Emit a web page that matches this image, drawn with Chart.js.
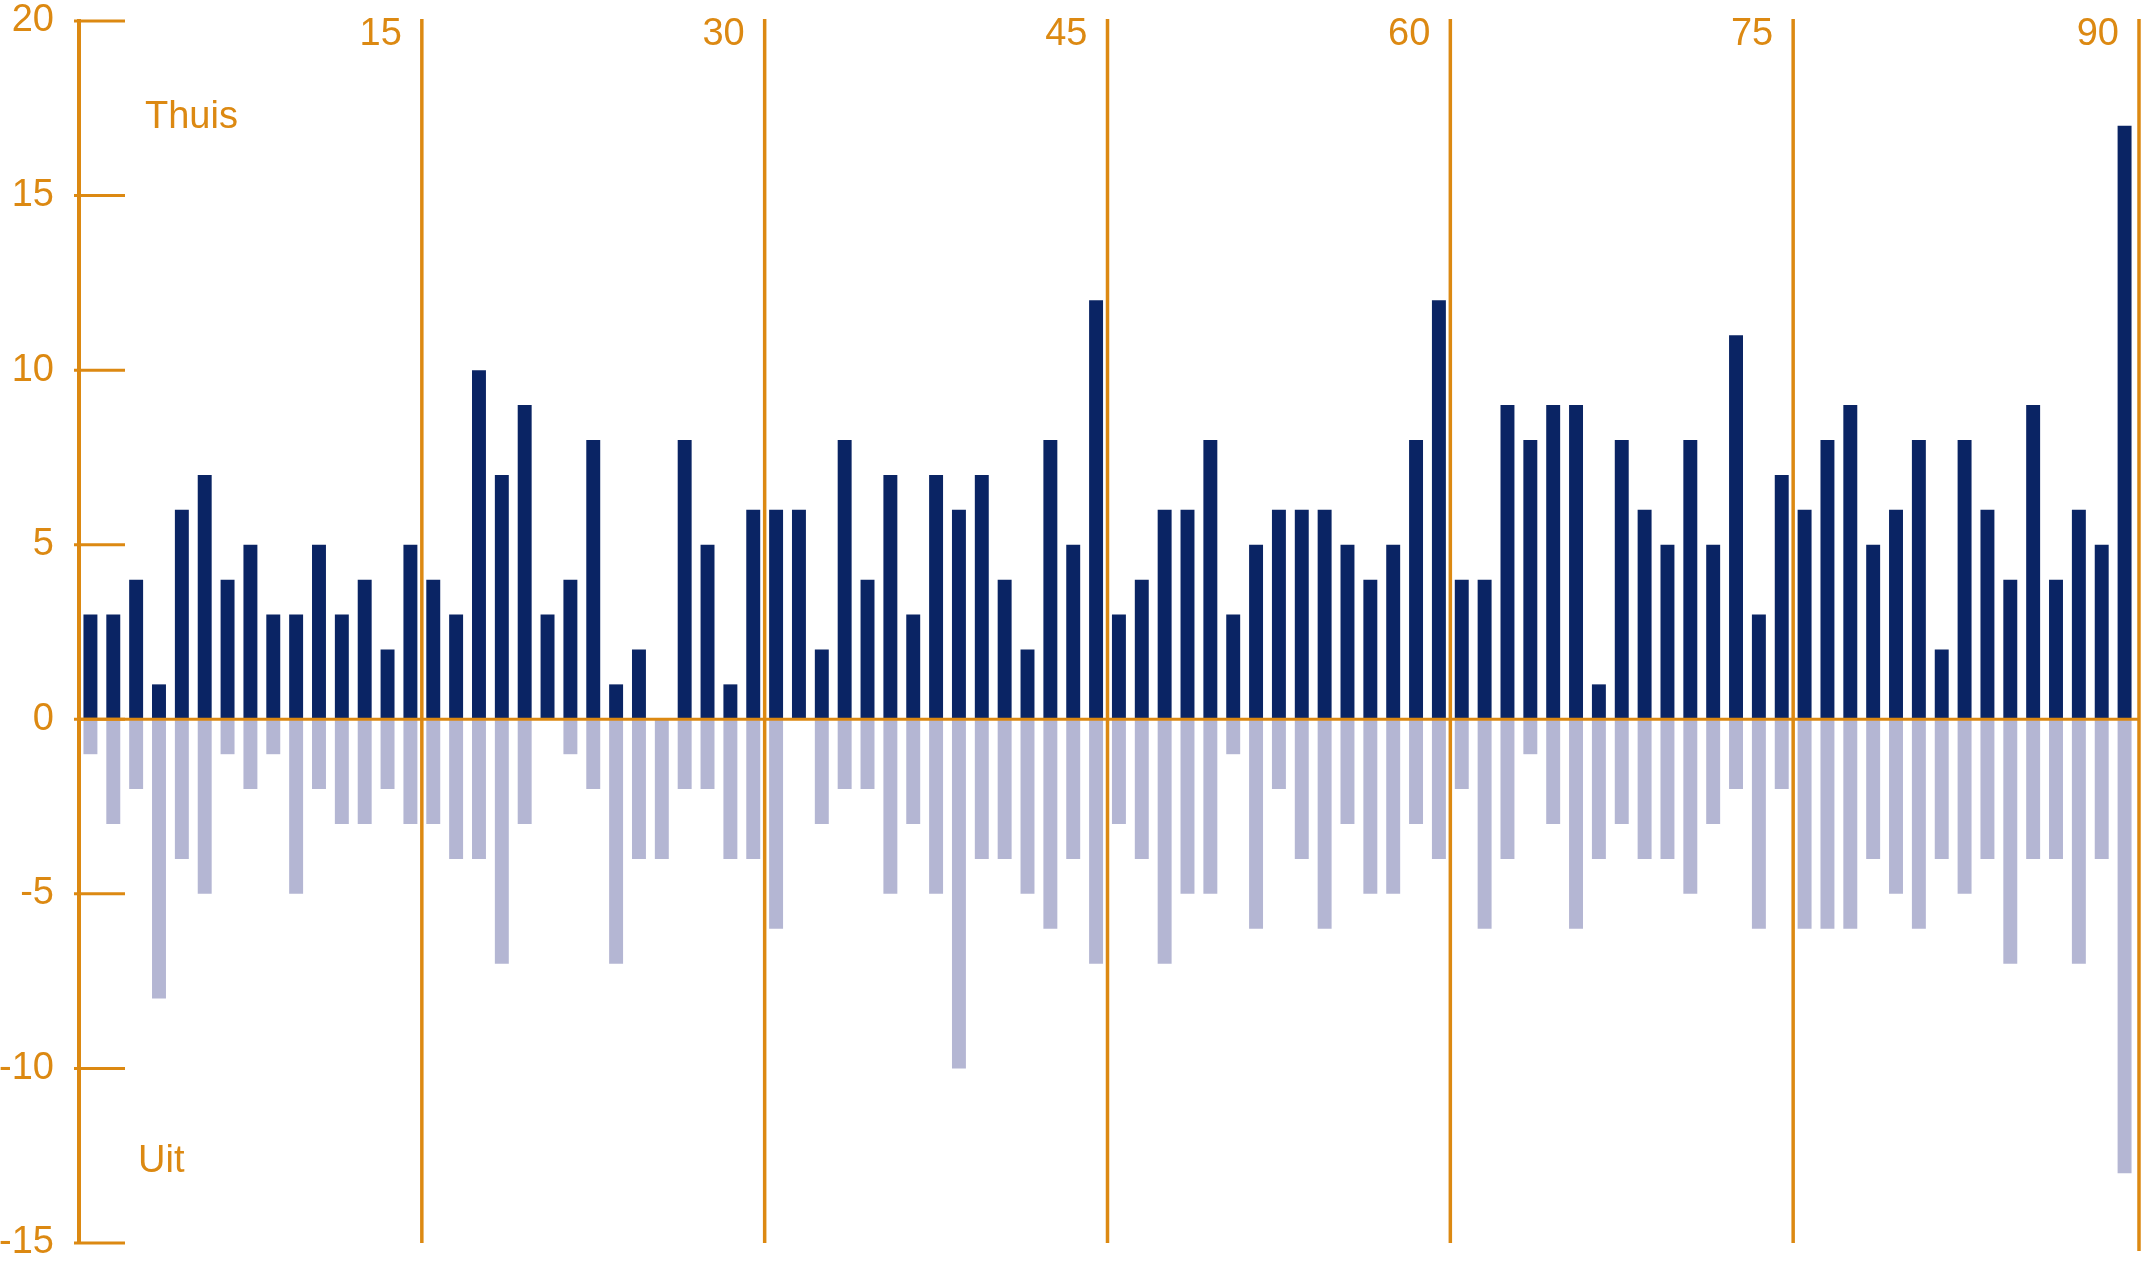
<!DOCTYPE html>
<html>
<head>
<meta charset="utf-8">
<script src="https://cdn.jsdelivr.net/npm/chart.js@4/dist/chart.umd.min.js"></script>
<style>
  html, body { margin: 0; padding: 0; background: #ffffff; }
  #wrap { width: 2146px; height: 1263px; }
</style>
</head>
<body>
<div id="wrap"><canvas id="c" width="2146" height="1263"></canvas></div>
<script>
// Minutes of the match (categories)
const minutes = [
  1,2,3,4,5,6,7,8,9,10,11,12,13,14,15,
  16,17,18,19,20,21,22,23,24,25,26,27,28,29,30,
  31,32,33,34,35,36,37,38,39,40,41,42,43,44,45,
  46,47,48,49,50,51,52,53,54,55,56,57,58,59,60,
  61,62,63,64,65,66,67,68,69,70,71,72,73,74,75,
  76,77,78,79,80,81,82,83,84,85,86,87,88,89,90
];

// Home ("Thuis") values per minute
const thuis = [
  3,3,4,1,6,7,4,5,3,3,5,3,4,2,5,
  4,3,10,7,9,3,4,8,1,2,0,8,5,1,6,
  6,6,2,8,4,7,3,7,6,7,4,2,8,5,12,
  3,4,6,6,8,3,5,6,6,6,5,4,5,8,12,
  4,4,9,8,9,9,1,8,6,5,8,5,11,3,7,
  6,8,9,5,6,8,2,8,6,4,9,4,6,5,17
];

// Away ("Uit") values per minute (drawn downwards)
const uit = [
  -1,-3,-2,-8,-4,-5,-1,-2,-1,-5,-2,-3,-3,-2,-3,
  -3,-4,-4,-7,-3,0,-1,-2,-7,-4,-4,-2,-2,-4,-4,
  -6,0,-3,-2,-2,-5,-3,-5,-10,-4,-4,-5,-6,-4,-7,
  -3,-4,-7,-5,-5,-1,-6,-2,-4,-6,-3,-5,-5,-3,-4,
  -2,-6,-4,-1,-3,-6,-4,-3,-4,-4,-5,-3,-2,-6,-2,
  -6,-6,-6,-4,-5,-6,-4,-5,-4,-7,-4,-4,-7,-4,-13
];

// Quarter-hour markers (top labels / vertical lines)
const quarterTicks = [15, 30, 45, 60, 75, 90];

// Value axis
const yMin = -15, yMax = 20, yStep = 5;

const ORANGE = '#DC8912';
const NAVY = '#0A2464';
const LIGHT = '#B4B6D3';
const FONT = '"Liberation Sans", Arial, Helvetica, sans-serif';

const overlay = {
  id: 'overlay',
  afterDatasetsDraw(chart) {
    const ctx = chart.ctx;
    const xs = chart.scales.x;
    const ys = chart.scales.y;
    const half = (xs.getPixelForValue(1) - xs.getPixelForValue(0)) / 2;
    const yTop = ys.getPixelForValue(yMax);
    const yBot = ys.getPixelForValue(yMin);
    const y0 = ys.getPixelForValue(0);
    ctx.save();

    // y tick marks pointing into the plot
    ctx.strokeStyle = ORANGE;
    ctx.lineWidth = 3;
    ys.ticks.forEach(t => {
      const y = ys.getPixelForValue(t.value);
      ctx.beginPath();
      ctx.moveTo(chart.chartArea.left - 5, y);
      ctx.lineTo(chart.chartArea.left + 46, y);
      ctx.stroke();
    });

    // vertical quarter lines and labels
    let lastX = chart.chartArea.right;
    ctx.font = '38px ' + FONT;
    ctx.fillStyle = ORANGE;
    ctx.textAlign = 'right';
    ctx.textBaseline = 'middle';
    quarterTicks.forEach(m => {
      const idx = minutes.indexOf(m);
      const x = xs.getPixelForValue(idx) + half + (m === 90 ? 3 : 0);
      lastX = x;
      ctx.lineWidth = 3.5;
      ctx.beginPath();
      ctx.moveTo(x, yTop - 2);
      ctx.lineTo(x, yBot + (m === 90 ? 8 : 0));
      ctx.stroke();
      ctx.fillText(String(m), x - 20, 35);
    });

    // zero line across the bars
    ctx.lineWidth = 3;
    ctx.beginPath();
    ctx.moveTo(chart.chartArea.left, y0);
    ctx.lineTo(lastX, y0);
    ctx.stroke();

    // series labels
    ctx.textAlign = 'left';
    ctx.textBaseline = 'alphabetic';
    ctx.font = '38px ' + FONT;
    ctx.fillText('Thuis', 145, 128);
    ctx.fillText('Uit', 138, 1172);

    ctx.restore();
  }
};

new Chart(document.getElementById('c'), {
  type: 'bar',
  data: {
    labels: minutes,
    datasets: [
      { label: 'Thuis', data: thuis, backgroundColor: NAVY, borderWidth: 0 },
      { label: 'Uit', data: uit, backgroundColor: LIGHT, borderWidth: 0 }
    ]
  },
  options: {
    responsive: false,
    devicePixelRatio: 1,
    animation: false,
    events: [],
    layout: { padding: { left: 0, right: 10, top: 21, bottom: 20 } },
    datasets: { bar: { categoryPercentage: 1, barPercentage: 0.61 } },
    plugins: { legend: { display: false }, tooltip: { enabled: false } },
    scales: {
      x: {
        display: false,
        stacked: true,
        offset: true
      },
      y: {
        stacked: true,
        min: yMin,
        max: yMax,
        afterFit(scale) {
          scale.width = 79;
          scale.paddingTop = 0;
          scale.paddingBottom = 0;
        },
        grid: { display: false, drawTicks: false },
        border: { display: true, color: ORANGE, width: 4 },
        ticks: {
          stepSize: yStep,
          color: ORANGE,
          padding: 25,
          font: { family: FONT, size: 38 }
        }
      }
    }
  },
  plugins: [overlay]
});
</script>
</body>
</html>
